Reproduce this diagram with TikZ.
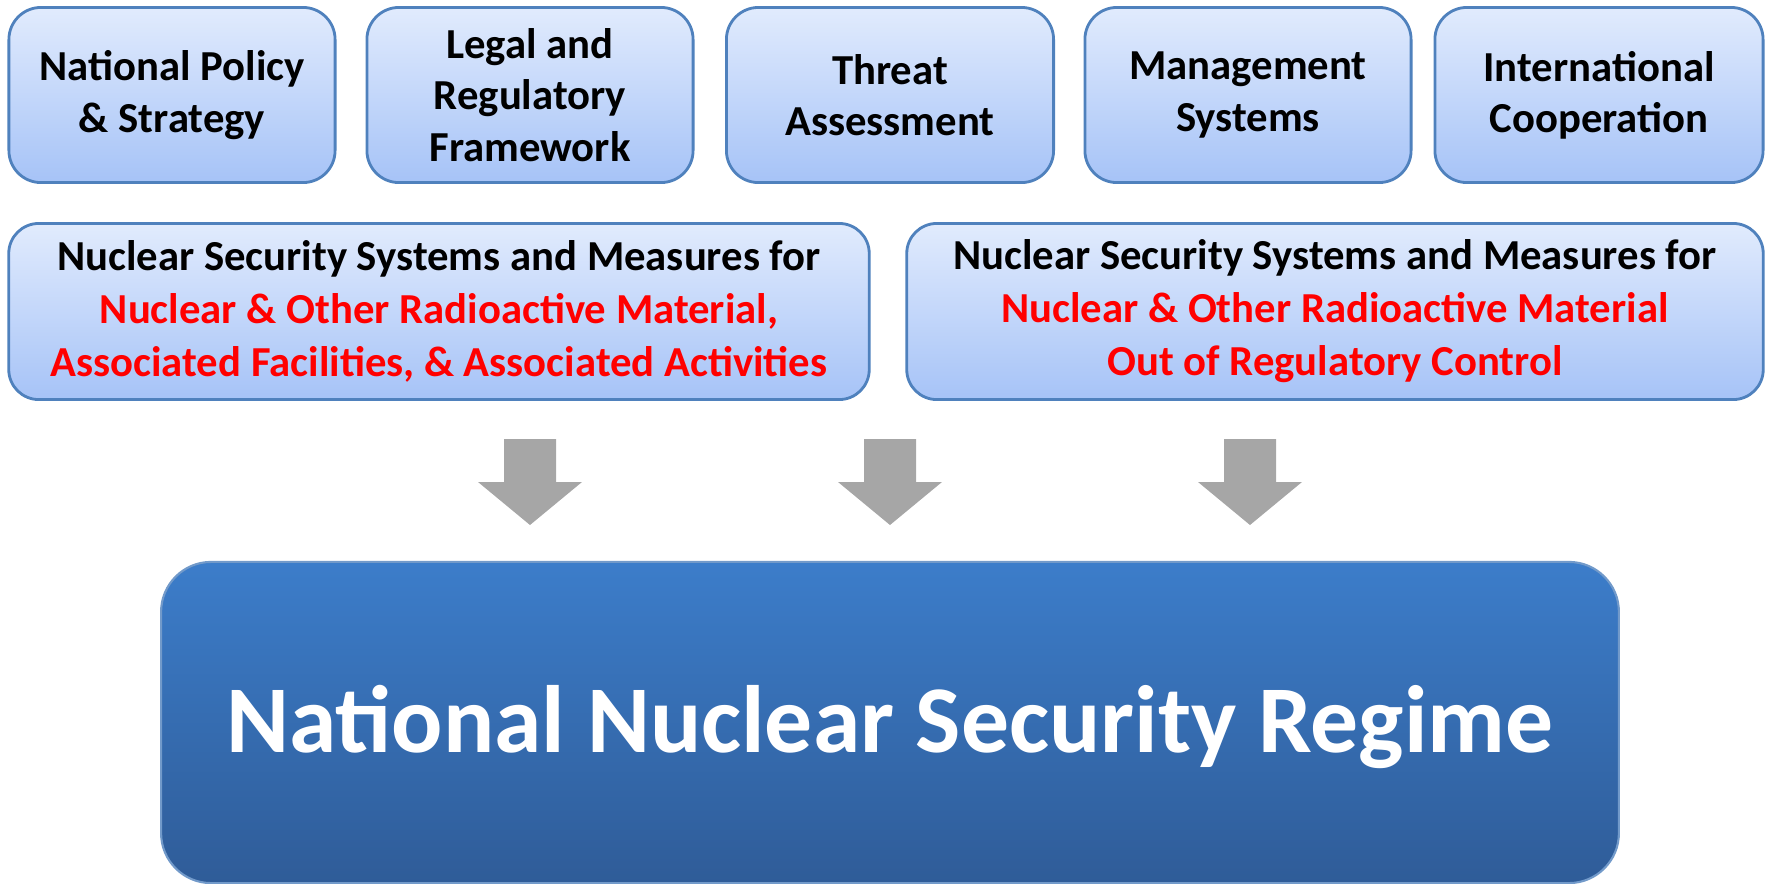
\documentclass[tikz,border=0pt]{standalone}
\usepackage{fontspec}
\setmainfont{Carlito}
\usepackage{xcolor}
\usetikzlibrary{positioning, calc, shapes}
\definecolor{bordoblu}{HTML}{4F81BD}
\definecolor{chiaroalto}{HTML}{E1EBFD}
\definecolor{chiarobasso}{HTML}{A6C3F7}
\definecolor{scuroalto}{HTML}{3C7DCA}
\definecolor{scurobasso}{HTML}{2F5C98}
\definecolor{grigiofreccia}{HTML}{A6A6A6}
\tikzset{
    pilastro/.style={draw=bordoblu, line width=0.8pt, rounded corners=0.32cm,
        top color=chiaroalto, bottom color=chiarobasso,
        minimum height=1.75cm, align=center, inner sep=2pt,
        font=\bfseries\fontsize{12.15}{14.6}\selectfont},
    sistema/.style={pilastro, rounded corners=0.3cm, minimum height=1.76cm,
        font=\bfseries\fontsize{12.15}{15.1}\selectfont},
    regime/.style={draw=bordoblu!80, line width=0.6pt, rounded corners=0.5cm,
        top color=scuroalto, bottom color=scurobasso, text=white,
        minimum width=14.57cm, minimum height=3.21cm, text depth=2pt,
        font=\bfseries\fontsize{27.2}{32}\selectfont}
}

\begin{document}
\begin{tikzpicture}[x=0.01cm, y=-0.01cm]
    % Margini fissi
    \useasboundingbox (0,0) rectangle (1771,884);

    % Elementi di base
    \node[pilastro, minimum width=3.26cm] (politica) at (172,95) {National Policy\\\& Strategy};
    \node[pilastro, minimum width=3.26cm] (legale) at (530,95) {Legal and\\Regulatory\\Framework};
    \node[pilastro, minimum width=3.27cm] (minaccia) at (890,95) {Threat\\Assessment};
    \node[pilastro, minimum width=3.26cm] (gestione) at (1248,95) {Management\\Systems};
    \node[pilastro, minimum width=3.28cm] (cooperazione) at (1599,95) {International\\Cooperation};

    % Sistemi e misure
    \node[sistema, minimum width=8.6cm] (materiale) at (439,311.5) {Nuclear Security Systems and Measures for\\
        \textcolor{red}{Nuclear \& Other Radioactive Material,}\\
        \textcolor{red}{Associated Facilities, \& Associated Activities}};
    \node[sistema, minimum width=8.56cm] (fuoricontrollo) at (1335,311.5) {Nuclear Security Systems and Measures for\\
        \textcolor{red}{Nuclear \& Other Radioactive Material}\\
        \textcolor{red}{Out of Regulatory Control}};

    % Frecce verso il regime
    \foreach \xc in {530, 890, 1250}{
        \fill[grigiofreccia] (\xc-26,439) -- (\xc+26,439) -- (\xc+26,482) -- (\xc+52,482)
            -- (\xc,525) -- (\xc-52,482) -- (\xc-26,482) -- cycle;
    }

    % Regime nazionale
    \node[regime] (regime) at (890,722.5) {National Nuclear Security Regime};
\end{tikzpicture}
\end{document}
